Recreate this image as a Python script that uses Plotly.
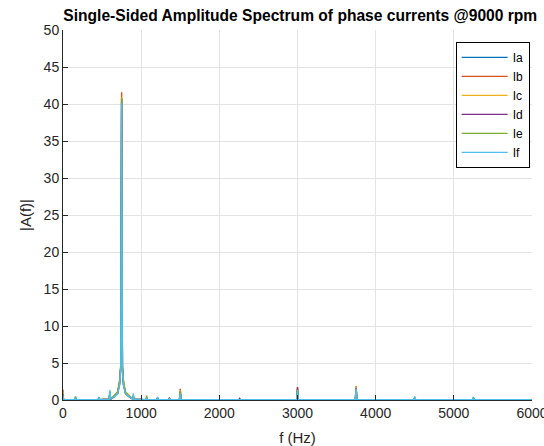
import plotly.graph_objects as go

# Frequency bins (Hz) shared by all phase-current spectra
f_hz = [0, 5, 20, 150, 160, 170, 300, 450, 460, 470,
        590, 600, 610, 650, 700, 725, 740, 750, 760, 775,
        800, 850, 895, 900, 905, 1000, 1060, 1070, 1080, 1200,
        1210, 1220, 1350, 1360, 1370, 1490, 1500, 1510, 1800, 2250,
        2260, 2270, 2600, 2990, 3000, 3010, 3300, 3740, 3750, 3760,
        4100, 4490, 4500, 4510, 4900, 5240, 5250, 5260, 5600, 6000]

# Single-sided amplitude of each phase current
ia = [0.9, 0.10, 0.05, 0.05, 0.30, 0.05, 0.05, 0.05, 0.30, 0.05,
      0.10, 1.10, 0.10, 0.40, 0.90, 2.20, 4.50, 40.3, 4.20, 2.00,
      0.90, 0.40, 0.10, 0.60, 0.10, 0.05, 0.05, 0.20, 0.05, 0.05,
      0.20, 0.05, 0.05, 0.20, 0.05, 0.05, 1.00, 0.05, 0.05, 0.05,
      0.10, 0.05, 0.05, 0.05, 1.20, 0.05, 0.05, 0.05, 1.40, 0.05,
      0.05, 0.05, 0.30, 0.05, 0.05, 0.05, 0.30, 0.05, 0.05, 0.05]
ib = [1.4, 0.10, 0.05, 0.05, 0.20, 0.05, 0.05, 0.05, 0.20, 0.05,
      0.10, 0.90, 0.10, 0.50, 1.10, 2.60, 4.80, 41.6, 4.60, 2.30,
      1.00, 0.50, 0.10, 0.50, 0.10, 0.05, 0.05, 0.30, 0.05, 0.05,
      0.30, 0.05, 0.05, 0.10, 0.05, 0.05, 1.50, 0.05, 0.05, 0.05,
      0.10, 0.05, 0.05, 0.05, 1.75, 0.05, 0.05, 0.05, 1.90, 0.05,
      0.05, 0.05, 0.20, 0.05, 0.05, 0.05, 0.20, 0.05, 0.05, 0.05]
ic = [1.1, 0.10, 0.05, 0.05, 0.30, 0.05, 0.05, 0.05, 0.20, 0.05,
      0.10, 0.80, 0.10, 0.50, 1.20, 2.80, 5.00, 40.9, 4.80, 2.50,
      1.10, 0.50, 0.10, 0.40, 0.10, 0.05, 0.05, 0.20, 0.05, 0.05,
      0.20, 0.05, 0.05, 0.20, 0.05, 0.05, 1.30, 0.05, 0.05, 0.05,
      0.20, 0.05, 0.05, 0.05, 1.50, 0.05, 0.05, 0.05, 1.80, 0.05,
      0.05, 0.05, 0.20, 0.05, 0.05, 0.05, 0.20, 0.05, 0.05, 0.05]
id_ = [0.8, 0.10, 0.05, 0.05, 0.20, 0.05, 0.05, 0.05, 0.30, 0.05,
       0.10, 0.90, 0.10, 0.40, 1.00, 2.40, 4.60, 40.7, 4.40, 2.10,
       0.90, 0.40, 0.10, 0.50, 0.10, 0.05, 0.05, 0.20, 0.05, 0.05,
       0.30, 0.05, 0.05, 0.30, 0.05, 0.05, 1.10, 0.05, 0.05, 0.05,
       0.20, 0.05, 0.05, 0.05, 1.70, 0.05, 0.05, 0.05, 1.60, 0.05,
       0.05, 0.05, 0.30, 0.05, 0.05, 0.05, 0.30, 0.05, 0.05, 0.05]
ie = [0.7, 0.10, 0.05, 0.05, 0.50, 0.05, 0.05, 0.05, 0.20, 0.05,
      0.10, 1.00, 0.10, 0.50, 1.10, 2.50, 4.70, 40.8, 4.50, 2.20,
      1.00, 0.50, 0.10, 0.50, 0.10, 0.05, 0.05, 0.60, 0.05, 0.05,
      0.20, 0.05, 0.05, 0.20, 0.05, 0.05, 1.20, 0.05, 0.05, 0.05,
      0.10, 0.05, 0.05, 0.05, 1.40, 0.05, 0.05, 0.05, 1.50, 0.05,
      0.05, 0.05, 0.20, 0.05, 0.05, 0.05, 0.20, 0.05, 0.05, 0.05]
if_ = [0.5, 0.10, 0.05, 0.05, 0.40, 0.05, 0.05, 0.05, 0.40, 0.05,
       0.10, 1.35, 0.10, 0.40, 0.90, 2.00, 4.30, 40.1, 4.00, 1.90,
       0.80, 0.40, 0.10, 0.90, 0.10, 0.05, 0.05, 0.20, 0.05, 0.05,
       0.40, 0.05, 0.05, 0.20, 0.05, 0.05, 0.90, 0.05, 0.05, 0.05,
       0.10, 0.05, 0.05, 0.05, 1.30, 0.05, 0.05, 0.05, 1.50, 0.05,
       0.05, 0.05, 0.50, 0.05, 0.05, 0.05, 0.40, 0.05, 0.05, 0.05]

names = ["Ia", "Ib", "Ic", "Id", "Ie", "If"]
series = [ia, ib, ic, id_, ie, if_]
colors = ["#0072BD", "#D95319", "#EDB120", "#7E2F8E", "#77AC30", "#4DBEEE"]

ink = "#262626"
fnt = "Liberation Sans, Arial, sans-serif"

fig = go.Figure()
for name, amp, col in zip(names, series, colors):
    fig.add_trace(go.Scatter(x=f_hz, y=amp, mode="lines", name=name,
                             line=dict(color=col, width=1.4)))

fig.update_layout(
    width=544, height=446,
    margin=dict(l=63, r=12, t=30, b=46, autoexpand=False),
    paper_bgcolor="white", plot_bgcolor="white",
    font=dict(family=fnt, size=14, color=ink),
    title=dict(text="<b>Single-Sided Amplitude Spectrum of phase currents @9000 rpm</b>",
               x=0.552, xanchor="center", y=0.966, yanchor="middle",
               font=dict(size=15.6, color="black")),
    showlegend=True,
    legend=dict(x=0.995, xanchor="right", y=0.968, yanchor="top",
                bgcolor="white", bordercolor="black", borderwidth=1,
                font=dict(size=12, color="black"),
                tracegroupgap=0, itemwidth=46),
)
fig.update_xaxes(
    range=[0, 6000], tickvals=[0, 1000, 2000, 3000, 4000, 5000, 6000],
    ticklabeloverflow="allow", automargin=False,
    showgrid=True, gridcolor="#e3e3e3", gridwidth=1,
    showline=True, linecolor=ink, linewidth=1,
    ticks="inside", ticklen=5, tickcolor=ink,
    zeroline=False, title=dict(text="f (Hz)", standoff=12, font=dict(size=15)),
)
fig.update_yaxes(
    range=[0, 50], tickvals=list(range(0, 51, 5)), automargin=False,
    showgrid=True, gridcolor="#e3e3e3", gridwidth=1,
    showline=True, linecolor=ink, linewidth=1,
    ticks="inside", ticklen=5, tickcolor=ink,
    zeroline=False, title=dict(text="|A(f)|", standoff=8, font=dict(size=15)),
)

fig.write_html("out.html")
